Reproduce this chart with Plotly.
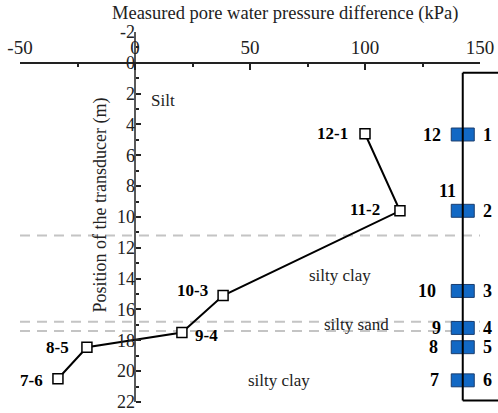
import plotly.graph_objects as go

# ---- data ----
pressure_diff = [100, 115.2, 38.3, 20.4, -20.9, -33.5]       # kPa
depth = [4.6, 9.6, 15.1, 17.5, 18.45, 20.5]                  # m
pair_labels = ["12-1", "11-2", "10-3", "9-4", "8-5", "7-6"]
label_x = [86, 100, 25.2, 30.9, -33.9, -44.8]
label_y = [4.6, 9.5, 14.8, 17.7, 18.5, 20.6]

layer_bounds = [11.2, 16.8, 17.4]
layer_names = ["Silt", "silty clay", "silty sand", "silty clay"]
layer_x = [12.2, 89.1, 96.5, 62.6]
layer_y = [2.45, 13.8, 17.0, 20.6]

sensor_depth = [4.65, 9.6, 14.8, 17.2, 18.45, 20.6]
left_ids = ["12", "11", "10", "9", "8", "7"]
left_x = [129.1, 135.7, 127, 131.3, 129.6, 130.4]
left_y = [4.65, 8.3, 14.8, 17.2, 18.45, 20.6]
right_ids = ["1", "2", "3", "4", "5", "6"]
pile_x = 142.5
pile_top, pile_bottom = 0.65, 21.9

x_ticks = [-50, 0, 50, 100, 150]
x_ticktext = ["-50", "0", "50", "100", "150"]
y_ticks = [-2, 0, 2, 4, 6, 8, 10, 12, 14, 16, 18, 20, 22]
y_ticktext = ["-2", "0", "2", "4", "6", "8", "10", "12", "14", "16", "18", "20", "22"]

x_range = [-50, 150]
y_range = [22.2, -2]

FONT = "Liberation Serif"
AX = "#222222"

fig = go.Figure()

# y axis line only spans -2 .. 22
fig.add_shape(type="line", xref="x", yref="y", x0=0, x1=0, y0=y_ticks[0], y1=y_ticks[-1],
              line=dict(color=AX, width=1.5))

# layer boundaries
for b in layer_bounds:
    fig.add_shape(type="line", xref="x", yref="y", x0=x_range[0], x1=x_range[1], y0=b, y1=b,
                  line=dict(color="#c4c4c4", width=2, dash="10px,7px"), layer="below")

# sensor blocks
for d in sensor_depth:
    fig.add_shape(type="rect", xref="x", yref="y", x0=pile_x - 5, x1=pile_x + 5,
                  y0=d - 0.42, y1=d + 0.42, fillcolor="#1268c4",
                  line=dict(color="#1a3d6e", width=1), layer="below")

# pile outline
fig.add_trace(go.Scatter(x=[pile_x, pile_x], y=[pile_top, pile_bottom], mode="lines",
                         line=dict(color="black", width=2), hoverinfo="skip", cliponaxis=False))
px0 = (pile_x - x_range[0]) / (x_range[1] - x_range[0])
for yy in (pile_top, pile_bottom):
    fig.add_shape(type="line", xref="paper", yref="y", x0=px0, x1=1.06, y0=yy, y1=yy,
                  line=dict(color="black", width=2))

# measured curve
fig.add_trace(go.Scatter(x=pressure_diff, y=depth, mode="lines+markers",
                         line=dict(color="black", width=2),
                         marker=dict(symbol="square", size=10, color="white",
                                     line=dict(color="black", width=1.5)),
                         cliponaxis=False))

ann = []
for t, x, y in zip(pair_labels, label_x, label_y):
    ann.append(dict(text="<b>%s</b>" % t, x=x, y=y, xref="x", yref="y", showarrow=False,
                    xanchor="center", yanchor="middle",
                    font=dict(family=FONT, size=17, color="black")))
for t, x, y in zip(layer_names, layer_x, layer_y):
    ann.append(dict(text=t, x=x, y=y, xref="x", yref="y", showarrow=False,
                    xanchor="center", yanchor="middle",
                    font=dict(family=FONT, size=17, color="#222")))
for t, x, y in zip(left_ids, left_x, left_y):
    ann.append(dict(text="<b>%s</b>" % t, x=x, y=y, xref="x", yref="y", showarrow=False,
                    xanchor="center", yanchor="middle",
                    font=dict(family=FONT, size=18, color="black")))
for t, y in zip(right_ids, sensor_depth):
    ann.append(dict(text="<b>%s</b>" % t, x=1.017, y=y, xref="paper", yref="y", showarrow=False,
                    xanchor="center", yanchor="middle",
                    font=dict(family=FONT, size=18, color="black")))
ann.append(dict(text="Measured pore water pressure difference (kPa)", x=0.576, y=1.05,
                xref="paper", yref="paper", showarrow=False, xanchor="center", yanchor="middle",
                font=dict(family=FONT, size=18.5, color="#222")))
ann.append(dict(text="Position of the transducer (m)", x=0.174, y=0.535, textangle=-90,
                xref="paper", yref="paper", showarrow=False, xanchor="center", yanchor="middle",
                font=dict(family=FONT, size=18, color="#222")))

span = y_range[0] - y_range[1]
fig.update_layout(
    width=498, height=413, margin=dict(l=20, r=18, t=32, b=8, autoexpand=False),
    plot_bgcolor="white", paper_bgcolor="white", showlegend=False,
    font=dict(family=FONT, color="#222"),
    annotations=ann,
    xaxis=dict(range=x_range, side="top", anchor="free", position=y_range[0] / span,
               automargin=False,
               showline=True, linecolor=AX, linewidth=1.5, ticks="inside", ticklen=6,
               tickwidth=1.5, tickcolor=AX, tickvals=x_ticks, ticktext=x_ticktext,
               showgrid=False, zeroline=False, ticklabeloverflow="allow",
               minor=dict(ticks="inside", ticklen=3, tickwidth=1.5, tickcolor=AX,
                          tick0=-50, dtick=25, showgrid=False),
               tickfont=dict(family=FONT, size=19, color="#222")),
    yaxis=dict(range=y_range, anchor="free", position=0.25, automargin=False,
               showline=False, ticks="inside", ticklen=5,
               tickwidth=1.5, tickcolor=AX, tickvals=y_ticks, ticktext=y_ticktext,
               showgrid=False, zeroline=False, ticklabeloverflow="allow",
               minor=dict(ticks="inside", ticklen=3, tickwidth=1.5, tickcolor=AX,
                          tick0=0, dtick=1, showgrid=False),
               tickfont=dict(family=FONT, size=18, color="#222")),
)

fig.write_html("out.html")
